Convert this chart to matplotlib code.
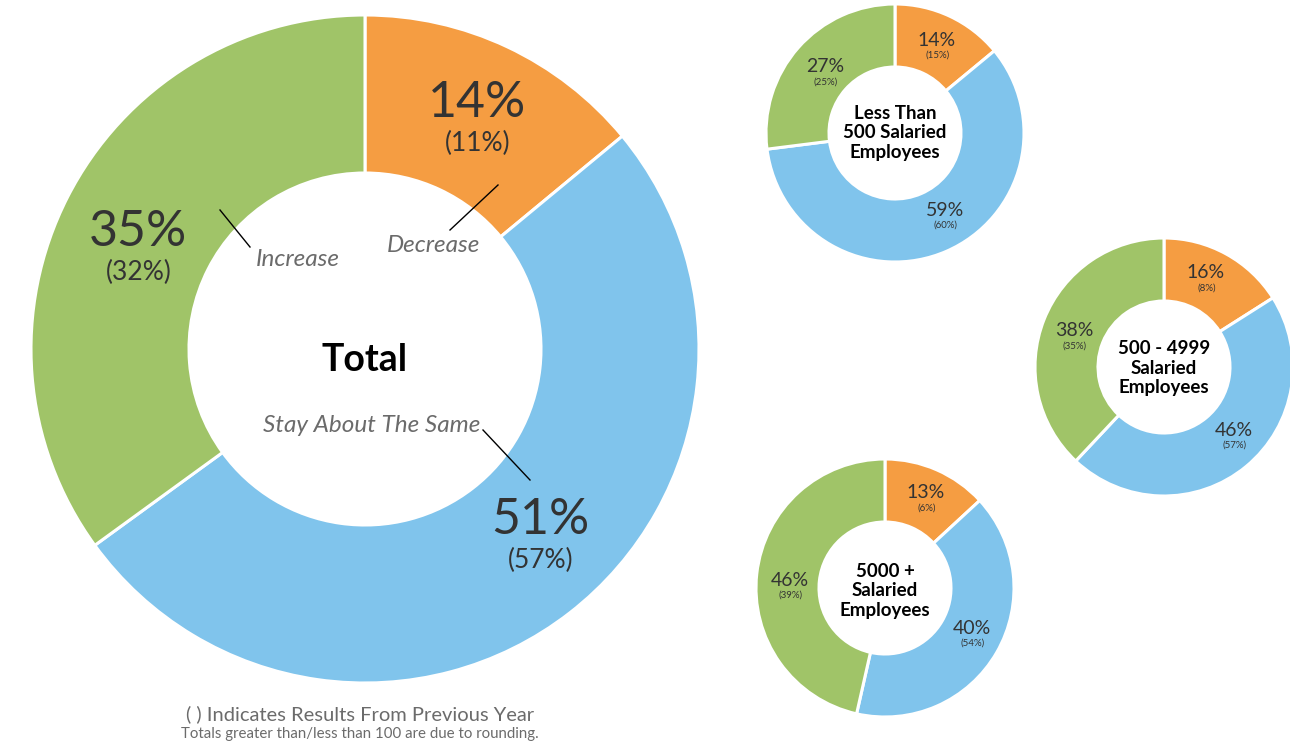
import matplotlib
matplotlib.use("Agg")
import matplotlib.pyplot as plt

# data: order is Decrease, Stay About The Same, Increase
categories = ["Decrease", "Stay About The Same", "Increase"]
total_now = [14, 51, 35]
total_prev = [11, 57, 32]

groups = ["Less Than\n500 Salaried\nEmployees",
          "500 - 4999\nSalaried\nEmployees",
          "5000 +\nSalaried\nEmployees"]
group_now = [[14, 59, 27], [16, 46, 38], [13, 40, 46]]
group_prev = [[15, 60, 25], [8, 57, 35], [6, 54, 39]]

colors = ["#F59D42", "#80C4EC", "#A0C468"]
TXT = "#333333"
GRAY = "#6b6b6b"
FONT = ["Lato", "DejaVu Sans"]

W, H = 1290, 745
fig = plt.figure(figsize=(12.9, 7.45), dpi=100)
ax = fig.add_axes([0, 0, 1, 1])


def py(y):
    return H - y


def donut(cx, cy, r, hole, values):
    ax.pie(values, colors=colors, startangle=90, counterclock=False,
           center=(cx, py(cy)), radius=r,
           wedgeprops=dict(width=r - hole, edgecolor="white", linewidth=2.2))


# big "Total" donut
bcx, bcy, bR = 365, 349, 334
donut(bcx, bcy, bR, 176, total_now)
big_pos = [(112, -246), (175, 171), (-227, -117)]  # offsets from centre, px
for (dx, dy), now, prev in zip(big_pos, total_now, total_prev):
    ax.text(bcx + dx, py(bcy + dy), f"{now}%", fontsize=36, color=TXT,
            ha="center", va="center", family=FONT)
    ax.text(bcx + dx + 1, py(bcy + dy + 40), f"({prev}%)", fontsize=19,
            color=TXT, ha="center", va="center", family=FONT)

ax.text(bcx, py(360), "Total", fontsize=27, fontweight="bold", color="black",
        ha="center", va="center", family=FONT)

# italic category labels with leader lines
cat_text = [(433, 246), (372, 426), (298, 259)]
cat_lines = [((498, 185), (450, 230)), ((483, 430), (530, 480)),
             ((220, 210), (250, 247))]
for name, (tx, ty), (p0, p1) in zip(categories, cat_text, cat_lines):
    ax.text(tx, py(ty), name, fontsize=17.5, style="italic", color=GRAY,
            ha="center", va="center", family=FONT)
    ax.plot([p0[0], p1[0]], [py(p0[1]), py(p1[1])], color="black", lw=1)

# small donuts
centres = [(895, 133), (1164, 367), (885, 588)]
label_dy = [0, 1, 3]
sR, sHole = 129, 66
small_pos = [
    [(42, -93), (50, 77), (-70, -66)],
    [(42, -94), (70, 63), (-90, -36)],
    [(41, -95), (87, 40), (-95, -8)],
]
for (cx, cy), ldy, label, now_v, prev_v, offs in zip(
        centres, label_dy, groups, group_now, group_prev, small_pos):
    donut(cx, cy, sR, sHole, now_v)
    ax.text(cx, py(cy + ldy), label, fontsize=13.5, fontweight="bold",
            color="black", ha="center", va="center", linespacing=1.15,
            family=FONT)
    for (dx, dy), now, prev in zip(offs, now_v, prev_v):
        ax.text(cx + dx, py(cy + dy), f"{now}%", fontsize=14, color=TXT,
                ha="center", va="center", family=FONT)
        ax.text(cx + dx + 1, py(cy + dy + 15), f"({prev}%)", fontsize=7,
                color=TXT, ha="center", va="center", family=FONT)

# footnotes
ax.text(360, py(714), "( ) Indicates Results From Previous Year", fontsize=14.5,
        color=GRAY, ha="center", va="center", family=FONT)
ax.text(360, py(734), "Totals greater than/less than 100 are due to rounding.",
        fontsize=10.8, color=GRAY, ha="center", va="center", family=FONT)

# pie() resets the limits, so set them last
ax.set_xlim(0, W)
ax.set_ylim(0, H)
ax.set_aspect("equal")
ax.axis("off")

fig.savefig("out.png", dpi=100)
